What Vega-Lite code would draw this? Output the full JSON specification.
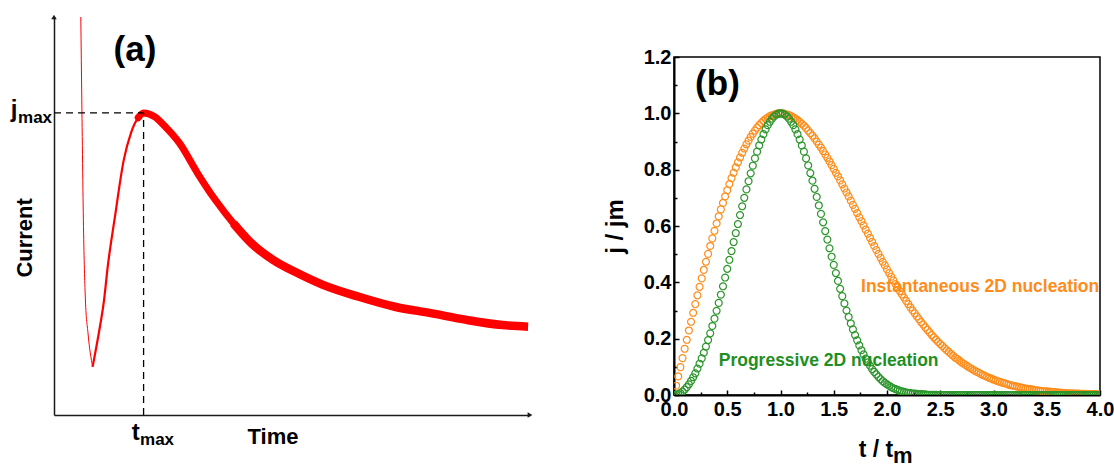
{
  "$schema": "https://vega.github.io/schema/vega-lite/v6.json",
  "autosize": {"type": "pad"},
  "padding": {"left": 10, "top": 14, "right": 0, "bottom": 0},
  "spacing": 69,
  "config": {
    "font": "Liberation Sans",
    "view": {"stroke": null},
    "axis": {"labelFont": "Liberation Sans", "titleFont": "Liberation Sans"},
    "text": {"font": "Liberation Sans"}
  },
  "datasets": {
    "down": [
      {"time": 5.63, "current": 100}, {"time": 5.84, "current": 79.1}, {"time": 6.22, "current": 45.7},
      {"time": 6.6, "current": 28.9}, {"time": 7.14, "current": 20.6}, {"time": 8.11, "current": 12.1}
    ],
    "up": [
      {"time": 8.11, "current": 12.1}, {"time": 9.39, "current": 20.4}, {"time": 10.52, "current": 28.9},
      {"time": 11.28, "current": 37.2}, {"time": 12.79, "current": 49.7}, {"time": 14.66, "current": 64.1},
      {"time": 16.18, "current": 70.9}, {"time": 17.69, "current": 74.7}, {"time": 18.82, "current": 75.9}
    ],
    "decayA": [
      {"time": 17.69, "current": 74.7}, {"time": 18.82, "current": 75.9}, {"time": 21.07, "current": 75.0}, {"time": 23.34, "current": 72.5},
      {"time": 26.37, "current": 68.3}, {"time": 30.13, "current": 60.8}, {"time": 33.91, "current": 54.0},
      {"time": 37.67, "current": 48.2}, {"time": 41.45, "current": 43.2}, {"time": 45.97, "current": 39.0}
    ],
    "decayB": [
      {"time": 37.67, "current": 48.2}, {"time": 41.45, "current": 43.2}, {"time": 45.97, "current": 39.0},
      {"time": 51.24, "current": 35.6}, {"time": 56.51, "current": 32.7}, {"time": 64.05, "current": 29.7},
      {"time": 71.6, "current": 27.2}, {"time": 79.12, "current": 25.6}, {"time": 86.68, "current": 23.9},
      {"time": 94.22, "current": 22.6}, {"time": 99.6, "current": 22.2}
    ],
    "dash": [
      {"time": 0, "time2": 18.82, "current": 75.9, "current2": 75.9},
      {"time": 18.82, "time2": 18.82, "current": 0, "current2": 75.9}
    ],
    "inst": [
      {"t":0,"j":0},{"t":0.02,"j":0.033},{"t":0.04,"j":0.066},{"t":0.06,"j":0.099},{"t":0.08,"j":0.131},{"t":0.1,"j":0.164},{"t":0.12,"j":0.196},{"t":0.14,"j":0.229},{"t":0.16,"j":0.26},{"t":0.18,"j":0.292},
      {"t":0.2,"j":0.323},{"t":0.22,"j":0.354},{"t":0.24,"j":0.384},{"t":0.26,"j":0.414},{"t":0.28,"j":0.444},{"t":0.3,"j":0.473},{"t":0.32,"j":0.501},{"t":0.34,"j":0.529},{"t":0.36,"j":0.556},{"t":0.38,"j":0.583},
      {"t":0.4,"j":0.609},{"t":0.42,"j":0.634},{"t":0.44,"j":0.659},{"t":0.46,"j":0.682},{"t":0.48,"j":0.705},{"t":0.5,"j":0.727},{"t":0.52,"j":0.749},{"t":0.54,"j":0.77},{"t":0.56,"j":0.789},{"t":0.58,"j":0.808},
      {"t":0.6,"j":0.826},{"t":0.62,"j":0.843},{"t":0.64,"j":0.86},{"t":0.66,"j":0.875},{"t":0.68,"j":0.89},{"t":0.7,"j":0.903},{"t":0.72,"j":0.916},{"t":0.74,"j":0.928},{"t":0.76,"j":0.939},{"t":0.78,"j":0.949},
      {"t":0.8,"j":0.958},{"t":0.82,"j":0.966},{"t":0.84,"j":0.973},{"t":0.86,"j":0.98},{"t":0.88,"j":0.985},{"t":0.9,"j":0.99},{"t":0.92,"j":0.993},{"t":0.94,"j":0.996},{"t":0.96,"j":0.998},{"t":0.98,"j":1.0},
      {"t":1.0,"j":1.0},{"t":1.02,"j":1.0},{"t":1.04,"j":0.998},{"t":1.06,"j":0.996},{"t":1.08,"j":0.994},{"t":1.1,"j":0.99},{"t":1.12,"j":0.986},{"t":1.14,"j":0.981},{"t":1.16,"j":0.976},{"t":1.18,"j":0.97},
      {"t":1.2,"j":0.963},{"t":1.22,"j":0.956},{"t":1.24,"j":0.948},{"t":1.26,"j":0.939},{"t":1.28,"j":0.93},{"t":1.3,"j":0.921},{"t":1.32,"j":0.911},{"t":1.34,"j":0.9},{"t":1.36,"j":0.889},{"t":1.38,"j":0.878},
      {"t":1.4,"j":0.866},{"t":1.42,"j":0.854},{"t":1.44,"j":0.842},{"t":1.46,"j":0.829},{"t":1.48,"j":0.816},{"t":1.5,"j":0.803},{"t":1.52,"j":0.789},{"t":1.54,"j":0.776},{"t":1.56,"j":0.762},{"t":1.58,"j":0.748},
      {"t":1.6,"j":0.733},{"t":1.62,"j":0.719},{"t":1.64,"j":0.705},{"t":1.66,"j":0.69},{"t":1.68,"j":0.675},{"t":1.7,"j":0.661},{"t":1.72,"j":0.646},{"t":1.74,"j":0.631},{"t":1.76,"j":0.617},{"t":1.78,"j":0.602},
      {"t":1.8,"j":0.587},{"t":1.82,"j":0.573},{"t":1.84,"j":0.558},{"t":1.86,"j":0.544},{"t":1.88,"j":0.529},{"t":1.9,"j":0.515},{"t":1.92,"j":0.501},{"t":1.94,"j":0.487},{"t":1.96,"j":0.473},{"t":1.98,"j":0.46},
      {"t":2.0,"j":0.446},{"t":2.02,"j":0.433},{"t":2.04,"j":0.42},{"t":2.06,"j":0.407},{"t":2.08,"j":0.394},{"t":2.1,"j":0.382},{"t":2.12,"j":0.369},{"t":2.14,"j":0.357},{"t":2.16,"j":0.346},{"t":2.18,"j":0.334},
      {"t":2.2,"j":0.323},{"t":2.22,"j":0.311},{"t":2.24,"j":0.3},{"t":2.26,"j":0.29},{"t":2.28,"j":0.279},{"t":2.3,"j":0.269},{"t":2.32,"j":0.259},{"t":2.34,"j":0.25},{"t":2.36,"j":0.24},{"t":2.38,"j":0.231},
      {"t":2.4,"j":0.222},{"t":2.42,"j":0.213},{"t":2.44,"j":0.205},{"t":2.46,"j":0.197},{"t":2.48,"j":0.189},{"t":2.5,"j":0.181},{"t":2.52,"j":0.174},{"t":2.54,"j":0.166},{"t":2.56,"j":0.159},{"t":2.58,"j":0.153},
      {"t":2.6,"j":0.146},{"t":2.62,"j":0.14},{"t":2.64,"j":0.133},{"t":2.66,"j":0.128},{"t":2.68,"j":0.122},{"t":2.7,"j":0.116},{"t":2.72,"j":0.111},{"t":2.74,"j":0.106},{"t":2.76,"j":0.101},{"t":2.78,"j":0.096},
      {"t":2.8,"j":0.092},{"t":2.82,"j":0.087},{"t":2.84,"j":0.083},{"t":2.86,"j":0.079},{"t":2.88,"j":0.075},{"t":2.9,"j":0.071},{"t":2.92,"j":0.068},{"t":2.94,"j":0.064},{"t":2.96,"j":0.061},{"t":2.98,"j":0.058},
      {"t":3.0,"j":0.055},{"t":3.02,"j":0.052},{"t":3.04,"j":0.049},{"t":3.06,"j":0.047},{"t":3.08,"j":0.044},{"t":3.1,"j":0.042},{"t":3.12,"j":0.04},{"t":3.14,"j":0.037},{"t":3.16,"j":0.035},{"t":3.18,"j":0.033},
      {"t":3.2,"j":0.032},{"t":3.22,"j":0.03},{"t":3.24,"j":0.028},{"t":3.26,"j":0.026},{"t":3.28,"j":0.025},{"t":3.3,"j":0.023},{"t":3.32,"j":0.022},{"t":3.34,"j":0.021},{"t":3.36,"j":0.02},{"t":3.38,"j":0.018},
      {"t":3.4,"j":0.017},{"t":3.42,"j":0.016},{"t":3.44,"j":0.015},{"t":3.46,"j":0.014},{"t":3.48,"j":0.013},{"t":3.5,"j":0.013},{"t":3.52,"j":0.012},{"t":3.54,"j":0.011},{"t":3.56,"j":0.01},{"t":3.58,"j":0.01},
      {"t":3.6,"j":0.009},{"t":3.62,"j":0.009},{"t":3.64,"j":0.008},{"t":3.66,"j":0.007},{"t":3.68,"j":0.007},{"t":3.7,"j":0.006},{"t":3.72,"j":0.006},{"t":3.74,"j":0.006},{"t":3.76,"j":0.005},{"t":3.78,"j":0.005},
      {"t":3.8,"j":0.005},{"t":3.82,"j":0.004},{"t":3.84,"j":0.004},{"t":3.86,"j":0.004},{"t":3.88,"j":0.003},{"t":3.9,"j":0.003},{"t":3.92,"j":0.003},{"t":3.94,"j":0.003},{"t":3.96,"j":0.003},{"t":3.98,"j":0.002},
      {"t":4.0,"j":0.002}
    ],
    "prog": [
      {"t":0,"j":0},{"t":0.02,"j":0.001},{"t":0.04,"j":0.003},{"t":0.06,"j":0.007},{"t":0.08,"j":0.012},{"t":0.1,"j":0.019},{"t":0.12,"j":0.028},{"t":0.14,"j":0.038},{"t":0.16,"j":0.05},{"t":0.18,"j":0.063},
      {"t":0.2,"j":0.077},{"t":0.22,"j":0.094},{"t":0.24,"j":0.111},{"t":0.26,"j":0.13},{"t":0.28,"j":0.15},{"t":0.3,"j":0.172},{"t":0.32,"j":0.195},{"t":0.34,"j":0.219},{"t":0.36,"j":0.245},{"t":0.38,"j":0.271},
      {"t":0.4,"j":0.299},{"t":0.42,"j":0.327},{"t":0.44,"j":0.356},{"t":0.46,"j":0.386},{"t":0.48,"j":0.417},{"t":0.5,"j":0.448},{"t":0.52,"j":0.48},{"t":0.54,"j":0.511},{"t":0.56,"j":0.543},{"t":0.58,"j":0.575},
      {"t":0.6,"j":0.607},{"t":0.62,"j":0.639},{"t":0.64,"j":0.67},{"t":0.66,"j":0.7},{"t":0.68,"j":0.73},{"t":0.7,"j":0.759},{"t":0.72,"j":0.787},{"t":0.74,"j":0.814},{"t":0.76,"j":0.84},{"t":0.78,"j":0.864},
      {"t":0.8,"j":0.886},{"t":0.82,"j":0.907},{"t":0.84,"j":0.926},{"t":0.86,"j":0.943},{"t":0.88,"j":0.958},{"t":0.9,"j":0.97},{"t":0.92,"j":0.981},{"t":0.94,"j":0.989},{"t":0.96,"j":0.995},{"t":0.98,"j":0.999},
      {"t":1.0,"j":1.0},{"t":1.02,"j":0.999},{"t":1.04,"j":0.995},{"t":1.06,"j":0.989},{"t":1.08,"j":0.981},{"t":1.1,"j":0.97},{"t":1.12,"j":0.958},{"t":1.14,"j":0.943},{"t":1.16,"j":0.926},{"t":1.18,"j":0.907},
      {"t":1.2,"j":0.886},{"t":1.22,"j":0.864},{"t":1.24,"j":0.84},{"t":1.26,"j":0.815},{"t":1.28,"j":0.788},{"t":1.3,"j":0.761},{"t":1.32,"j":0.732},{"t":1.34,"j":0.703},{"t":1.36,"j":0.673},{"t":1.38,"j":0.643},
      {"t":1.4,"j":0.613},{"t":1.42,"j":0.582},{"t":1.44,"j":0.552},{"t":1.46,"j":0.521},{"t":1.48,"j":0.491},{"t":1.5,"j":0.462},{"t":1.52,"j":0.433},{"t":1.54,"j":0.405},{"t":1.56,"j":0.377},{"t":1.58,"j":0.351},
      {"t":1.6,"j":0.325},{"t":1.62,"j":0.3},{"t":1.64,"j":0.277},{"t":1.66,"j":0.254},{"t":1.68,"j":0.233},{"t":1.7,"j":0.213},{"t":1.72,"j":0.194},{"t":1.74,"j":0.176},{"t":1.76,"j":0.159},{"t":1.78,"j":0.144},
      {"t":1.8,"j":0.129},{"t":1.82,"j":0.116},{"t":1.84,"j":0.104},{"t":1.86,"j":0.092},{"t":1.88,"j":0.082},{"t":1.9,"j":0.073},{"t":1.92,"j":0.064},{"t":1.94,"j":0.056},{"t":1.96,"j":0.049},{"t":1.98,"j":0.043},
      {"t":2.0,"j":0.038},{"t":2.02,"j":0.033},{"t":2.04,"j":0.028},{"t":2.06,"j":0.024},{"t":2.08,"j":0.021},{"t":2.1,"j":0.018},{"t":2.12,"j":0.015},{"t":2.14,"j":0.013},{"t":2.16,"j":0.011},{"t":2.18,"j":0.009},
      {"t":2.2,"j":0.008},{"t":2.22,"j":0.007},{"t":2.24,"j":0.005},{"t":2.26,"j":0.005},{"t":2.28,"j":0.004},{"t":2.3,"j":0.003},{"t":2.32,"j":0.003},{"t":2.34,"j":0.002},{"t":2.36,"j":0.002},{"t":2.38,"j":0.001},
      {"t":2.4,"j":0.001},{"t":2.42,"j":0.001},{"t":2.44,"j":0.001},{"t":2.46,"j":0.001},{"t":2.48,"j":0},{"t":2.5,"j":0},{"t":2.52,"j":0},{"t":2.54,"j":0},{"t":2.56,"j":0},{"t":2.58,"j":0},
      {"t":2.6,"j":0},{"t":2.62,"j":0},{"t":2.64,"j":0},{"t":2.66,"j":0},{"t":2.68,"j":0},{"t":2.7,"j":0},{"t":2.72,"j":0},{"t":2.74,"j":0},{"t":2.76,"j":0},{"t":2.78,"j":0},
      {"t":2.8,"j":0},{"t":2.82,"j":0},{"t":2.84,"j":0},{"t":2.86,"j":0},{"t":2.88,"j":0},{"t":2.9,"j":0},{"t":2.92,"j":0},{"t":2.94,"j":0},{"t":2.96,"j":0},{"t":2.98,"j":0},
      {"t":3.0,"j":0},{"t":3.02,"j":0},{"t":3.04,"j":0},{"t":3.06,"j":0},{"t":3.08,"j":0},{"t":3.1,"j":0},{"t":3.12,"j":0},{"t":3.14,"j":0},{"t":3.16,"j":0},{"t":3.18,"j":0},
      {"t":3.2,"j":0},{"t":3.22,"j":0},{"t":3.24,"j":0},{"t":3.26,"j":0},{"t":3.28,"j":0},{"t":3.3,"j":0},{"t":3.32,"j":0},{"t":3.34,"j":0},{"t":3.36,"j":0},{"t":3.38,"j":0},
      {"t":3.4,"j":0},{"t":3.42,"j":0},{"t":3.44,"j":0},{"t":3.46,"j":0},{"t":3.48,"j":0},{"t":3.5,"j":0},{"t":3.52,"j":0},{"t":3.54,"j":0},{"t":3.56,"j":0},{"t":3.58,"j":0},
      {"t":3.6,"j":0},{"t":3.62,"j":0},{"t":3.64,"j":0},{"t":3.66,"j":0},{"t":3.68,"j":0},{"t":3.7,"j":0},{"t":3.72,"j":0},{"t":3.74,"j":0},{"t":3.76,"j":0},{"t":3.78,"j":0},
      {"t":3.8,"j":0},{"t":3.82,"j":0},{"t":3.84,"j":0},{"t":3.86,"j":0},{"t":3.88,"j":0},{"t":3.9,"j":0},{"t":3.92,"j":0},{"t":3.94,"j":0},{"t":3.96,"j":0},{"t":3.98,"j":0},
      {"t":4.0,"j":0}
    ]
  },
  "hconcat": [
    {
      "width": 476,
      "height": 398,
      "encoding": {
        "x": {"field": "time", "type": "quantitative", "scale": {"domain": [0, 100], "nice": false, "zero": false},
              "axis": {"domain": true, "domainColor": "#1a1a1a", "domainWidth": 1.5, "ticks": false, "labels": false, "grid": false, "title": null}},
        "y": {"field": "current", "type": "quantitative", "scale": {"domain": [0, 100], "nice": false, "zero": false},
              "axis": {"domain": true, "domainColor": "#1a1a1a", "domainWidth": 1.5, "ticks": false, "labels": false, "grid": false, "title": null}}
      },
      "layer": [
        {"data": {"name": "down"}, "mark": {"type": "line", "color": "#ff0000", "strokeWidth": 1, "interpolate": "monotone"}},
        {"data": {"name": "up"}, "mark": {"type": "line", "color": "#ff0000", "strokeWidth": 2.2, "strokeJoin": "round", "interpolate": "monotone"}},
        {"data": {"name": "decayA"}, "mark": {"type": "line", "color": "#ff0000", "strokeWidth": 7, "strokeCap": "round", "strokeJoin": "round", "interpolate": "monotone"}},
        {"data": {"name": "decayB"}, "mark": {"type": "line", "color": "#ff0000", "strokeWidth": 8.5, "strokeCap": "butt", "strokeJoin": "round", "interpolate": "monotone"}},
        {"data": {"name": "dash"}, "mark": {"type": "rule", "color": "black", "strokeDash": [7, 5], "strokeWidth": 1.3},
         "encoding": {"x2": {"field": "time2"}, "y2": {"field": "current2"}}},
        {"data": {"values": [{"time": 0, "current": 100}]}, "mark": {"type": "point", "shape": "triangle-up", "filled": true, "color": "#1a1a1a", "size": 30, "opacity": 1}},
        {"data": {"values": [{"time": 100, "current": 0}]}, "mark": {"type": "point", "shape": "triangle-right", "filled": true, "color": "#1a1a1a", "size": 30, "opacity": 1}},
        {"data": {"values": [{"time": 17.0, "current": 91.6, "label": "(a)"}]},
         "mark": {"type": "text", "fontSize": 35, "fontWeight": "bold", "align": "center", "baseline": "middle", "color": "black"},
         "encoding": {"text": {"field": "label"}}},
        {"data": {"values": [{"time": -6.1, "current": 44.5, "label": "Current"}]},
         "mark": {"type": "text", "fontSize": 22, "fontWeight": "bold", "align": "center", "baseline": "middle", "angle": 270, "color": "black"},
         "encoding": {"text": {"field": "label"}}},
        {"data": {"values": [{"time": 46.0, "current": -7.3, "label": "Time"}]},
         "mark": {"type": "text", "fontSize": 22, "fontWeight": "bold", "align": "center", "baseline": "alphabetic", "color": "black"},
         "encoding": {"text": {"field": "label"}}},
        {"data": {"values": [{"time": -8.4, "current": 74.9, "label": "j"}, {"time": 17.2, "current": -6.3, "label": "t"}]},
         "mark": {"type": "text", "fontSize": 24, "fontWeight": "bold", "align": "center", "baseline": "alphabetic", "color": "black"},
         "encoding": {"text": {"field": "label"}}},
        {"data": {"values": [{"time": -7.56, "current": 73.4, "label": "max"}, {"time": 18.07, "current": -7.5, "label": "max"}]},
         "mark": {"type": "text", "fontSize": 17, "fontWeight": "bold", "align": "left", "baseline": "alphabetic", "color": "black"},
         "encoding": {"text": {"field": "label"}}}
      ]
    },
    {
      "spacing": 0,
      "vconcat": [
        {"width": 426, "height": 29, "data": {"values": []}, "mark": "point", "view": {"stroke": null}},
        {
          "width": 426,
          "height": 338,
          "view": {"stroke": "black", "strokeWidth": 1.5},
          "resolve": {"axis": {"x": "independent", "y": "independent"}},
          "layer": [
            {"data": {"name": "inst"},
             "mark": {"type": "point", "shape": "circle", "filled": false, "size": 48, "strokeWidth": 1.2, "color": "#ff8c1a", "opacity": 1, "clip": true},
             "encoding": {
               "x": {"field": "t", "type": "quantitative", "scale": {"domain": [0, 4], "nice": false, "zero": false},
                     "axis": {"orient": "bottom", "values": [0.25, 0.75, 1.25, 1.75, 2.25, 2.75, 3.25, 3.75], "labels": false, "domain": false, "grid": false, "title": null, "tickSize": -3, "tickColor": "black", "tickWidth": 1.5}},
               "y": {"field": "j", "type": "quantitative", "scale": {"domain": [0, 1.2], "nice": false, "zero": false},
                     "axis": {"orient": "left", "values": [0.1, 0.3, 0.5, 0.7, 0.9, 1.1], "labels": false, "domain": false, "grid": false, "title": null, "tickSize": -3, "tickColor": "black", "tickWidth": 1.5}}
             }},
            {"data": {"name": "prog"},
             "mark": {"type": "point", "shape": "circle", "filled": false, "size": 48, "strokeWidth": 1.2, "color": "#2a952a", "opacity": 1, "clip": true},
             "encoding": {
               "x": {"field": "t", "type": "quantitative", "scale": {"domain": [0, 4], "nice": false, "zero": false},
                     "axis": {"orient": "bottom", "values": [0, 0.5, 1, 1.5, 2, 2.5, 3, 3.5, 4], "format": ".1f", "labelFlush": false, "labelOverlap": false,
                              "labelFontSize": 20, "labelFontWeight": "bold", "labelColor": "black", "labelPadding": 9,
                              "domain": true, "domainColor": "black", "domainWidth": 2, "grid": false, "title": null,
                              "tickSize": -5, "tickColor": "black", "tickWidth": 1.5}},
               "y": {"field": "j", "type": "quantitative", "scale": {"domain": [0, 1.2], "nice": false, "zero": false},
                     "axis": {"orient": "left", "values": [0, 0.2, 0.4, 0.6, 0.8, 1.0, 1.2], "format": ".1f", "labelFlush": false, "labelOverlap": false,
                              "labelFontSize": 20, "labelFontWeight": "bold", "labelColor": "black", "labelPadding": 8,
                              "domain": true, "domainColor": "black", "domainWidth": 2, "grid": false,
                              "title": "j / jm", "titleFontSize": 24, "titleFontWeight": "bold", "titleColor": "black", "titlePadding": 16,
                              "tickSize": -5, "tickColor": "black", "tickWidth": 1.5}}
             }},
            {"data": {"values": [{"t": 0.408, "j": 1.105, "label": "(b)"}]},
             "mark": {"type": "text", "fontSize": 35, "fontWeight": "bold", "align": "center", "baseline": "middle", "color": "black"},
             "encoding": {"x": {"field": "t", "type": "quantitative", "axis": null}, "y": {"field": "j", "type": "quantitative", "axis": null}, "text": {"field": "label"}}},
            {"data": {"values": [{"t": 1.756, "j": 0.384, "label": "Instantaneous 2D nucleation"}]},
             "mark": {"type": "text", "fontSize": 17.5, "fontWeight": "bold", "align": "left", "baseline": "middle", "color": "#ff8c1a"},
             "encoding": {"x": {"field": "t", "type": "quantitative", "axis": null}, "y": {"field": "j", "type": "quantitative", "axis": null}, "text": {"field": "label"}}},
            {"data": {"values": [{"t": 0.42, "j": 0.121, "label": "Progressive 2D nucleation"}]},
             "mark": {"type": "text", "fontSize": 17.5, "fontWeight": "bold", "align": "left", "baseline": "middle", "color": "#1f8f1f"},
             "encoding": {"x": {"field": "t", "type": "quantitative", "axis": null}, "y": {"field": "j", "type": "quantitative", "axis": null}, "text": {"field": "label"}}},
            {"data": {"values": [{"t": 1.897, "j": -0.22, "label": "t / t"}]},
             "mark": {"type": "text", "fontSize": 23, "fontWeight": "bold", "align": "center", "baseline": "alphabetic", "color": "black"},
             "encoding": {"x": {"field": "t", "type": "quantitative", "axis": null}, "y": {"field": "j", "type": "quantitative", "axis": null}, "text": {"field": "label"}}},
            {"data": {"values": [{"t": 2.056, "j": -0.242, "label": "m"}]},
             "mark": {"type": "text", "fontSize": 22, "fontWeight": "bold", "align": "left", "baseline": "alphabetic", "color": "black"},
             "encoding": {"x": {"field": "t", "type": "quantitative", "axis": null}, "y": {"field": "j", "type": "quantitative", "axis": null}, "text": {"field": "label"}}}
          ]
        }
      ]
    }
  ]
}
